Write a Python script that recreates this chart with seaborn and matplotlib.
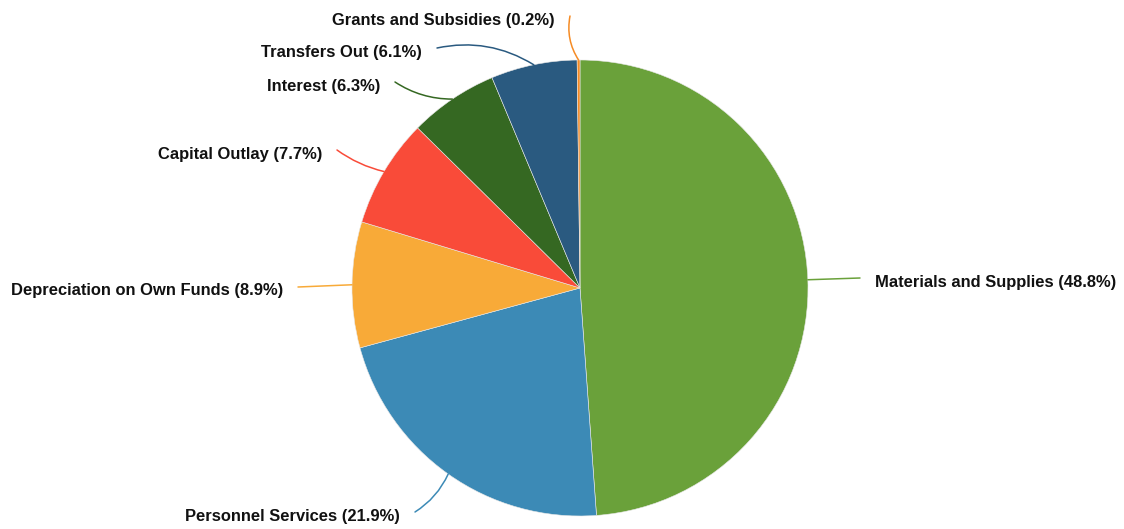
import matplotlib
matplotlib.use("Agg")
import matplotlib.pyplot as plt
import numpy as np
import seaborn as sns

categories = ["Materials and Supplies", "Personnel Services", "Depreciation on Own Funds",
              "Capital Outlay", "Interest", "Transfers Out", "Grants and Subsidies"]
shares = [48.8, 21.9, 8.9, 7.7, 6.3, 6.1, 0.2]
colors = ["#6aa13a", "#3c8ab6", "#f8aa38", "#f94b39", "#356822", "#2a5a80", "#f58b25"]

# label anchor positions in pixels (x, y from top), side of the text
label_pos = [(875, 282, "left"), (400, 516, "right"), (283, 291, "right"),
             (322, 154, "right"), (380, 86, "right"), (422, 52, "right"),
             (555, 20, "right")]
# curvature of each connector
rads = [0.0, 0.15, 0.0, 0.1, 0.15, -0.2, 0.2]

sns.set_theme(style="white")
plt.rcParams["font.family"] = ["Liberation Sans", "DejaVu Sans"]

W, H = 1124, 529
fig = plt.figure(figsize=(W / 100, H / 100), dpi=100)
ax = fig.add_axes([0, 0, 1, 1])

cx, cy, R = 580, H - 288, 228
wedges, _ = ax.pie(shares, colors=colors, startangle=90, counterclock=False,
                   center=(cx, cy), radius=R, frame=True,
                   wedgeprops=dict(edgecolor="#e8e8e8", linewidth=0.4))
ax.set_xlim(0, W)
ax.set_ylim(0, H)
ax.set_aspect("equal")
ax.axis("off")

for w, name, val, (lx, ly, side), col, rad in zip(wedges, categories, shares,
                                                   label_pos, colors, rads):
    ang = np.deg2rad((w.theta1 + w.theta2) / 2)
    ex, ey = cx + R * np.cos(ang), cy + R * np.sin(ang)
    ty = H - ly
    lx0 = lx - 15 if side == "left" else lx + 15
    ax.text(lx, ty, f"{name} ({val}%)", ha=side, va="center",
            fontsize=11.9, fontweight="bold", color="#111111")
    ax.annotate("", xy=(ex, ey), xytext=(lx0, ty + 4),
                arrowprops=dict(arrowstyle="-", color=col, lw=1.1,
                                shrinkA=0, shrinkB=0,
                                connectionstyle=f"arc3,rad={rad}"))

fig.savefig("out.png", dpi=100)
